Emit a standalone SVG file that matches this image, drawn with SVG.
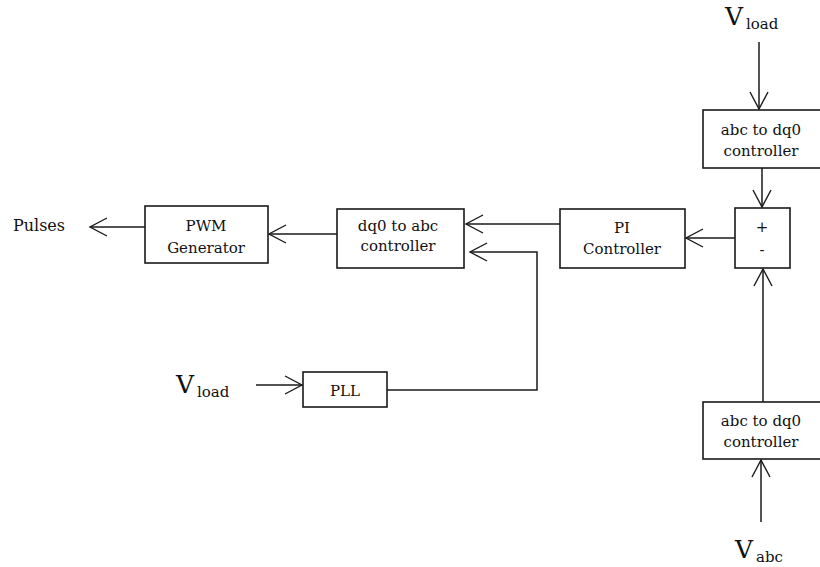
<svg xmlns="http://www.w3.org/2000/svg" width="820" height="567" viewBox="0 0 820 567">
<style>
.box{fill:#fff;stroke:#1a1a1a;stroke-width:1.6}
.ln{fill:none;stroke:#1a1a1a;stroke-width:1.5}
.t{font-family:"DejaVu Serif","Liberation Serif",serif;font-size:15px;fill:#111;text-anchor:middle}
.big{font-family:"DejaVu Serif","Liberation Serif",serif;font-size:25px;fill:#111}
.sub{font-family:"DejaVu Serif","Liberation Serif",serif;font-size:15px;fill:#111}
</style>
<defs>
<marker id="ah" markerUnits="userSpaceOnUse" markerWidth="40" markerHeight="40" refX="0" refY="0" viewBox="-20 -20 40 40" orient="auto" overflow="visible">
<path d="M-17,-9 L0,0 L-17,9" fill="none" stroke="#1a1a1a" stroke-width="1.4"/>
</marker>
</defs>
<rect width="820" height="567" fill="#fff"/>
<g id="connectors">
<line class="ln" x1="759" y1="42" x2="759" y2="109" marker-end="url(#ah)"/>
<line class="ln" x1="762" y1="168" x2="762" y2="207" marker-end="url(#ah)"/>
<line class="ln" x1="735" y1="238" x2="686" y2="238" marker-end="url(#ah)"/>
<line class="ln" x1="560" y1="224" x2="466" y2="224" marker-end="url(#ah)"/>
<line class="ln" x1="337" y1="234" x2="269" y2="234" marker-end="url(#ah)"/>
<line class="ln" x1="145" y1="227" x2="90" y2="227" marker-end="url(#ah)"/>
<polyline class="ln" points="387,390 537,390 537,252 470,252" marker-end="url(#ah)"/>
<line class="ln" x1="256" y1="385" x2="302" y2="385" marker-end="url(#ah)"/>
<line class="ln" x1="763" y1="402" x2="763" y2="269" marker-end="url(#ah)"/>
<line class="ln" x1="761" y1="522" x2="761" y2="460" marker-end="url(#ah)"/>
</g>
<g id="vload-top">
<text class="big" x="725" y="25">V</text><text class="sub" x="746" y="29">load</text>
</g>
<g id="abc-dq0-top">
<rect class="box" x="703" y="110" width="130" height="58"/>
<text class="t" x="761" y="135">abc to dq0</text>
<text class="t" x="761" y="156">controller</text>
</g>
<g id="sum">
<rect class="box" x="735" y="208" width="55" height="60"/>
<text class="t" x="762" y="232">+</text>
<text class="t" x="762" y="255">-</text>
</g>
<g id="pi">
<rect class="box" x="560" y="209" width="125" height="59"/>
<text class="t" x="622" y="233">PI</text>
<text class="t" x="622" y="254">Controller</text>
</g>
<g id="dq0-abc">
<rect class="box" x="337" y="209" width="127" height="59"/>
<text class="t" x="398" y="231">dq0 to abc</text>
<text class="t" x="398" y="251">controller</text>
</g>
<g id="pwm">
<rect class="box" x="145" y="206" width="123" height="57"/>
<text class="t" x="206" y="231">PWM</text>
<text class="t" x="206" y="253">Generator</text>
</g>
<g id="pulses">
<text class="t" x="39" y="231" style="font-size:16px">Pulses</text>
</g>
<g id="pll">
<rect class="box" x="303" y="372" width="84" height="35"/>
<text class="t" x="345" y="396">PLL</text>
</g>
<g id="vload-left">
<text class="big" x="176" y="393">V</text><text class="sub" x="197" y="397">load</text>
</g>
<g id="abc-dq0-bottom">
<rect class="box" x="703" y="402" width="130" height="57"/>
<text class="t" x="761" y="426">abc to dq0</text>
<text class="t" x="761" y="447">controller</text>
</g>
<g id="vabc">
<text class="big" x="735" y="558">V</text><text class="sub" x="756" y="562">abc</text>
</g>
</svg>
